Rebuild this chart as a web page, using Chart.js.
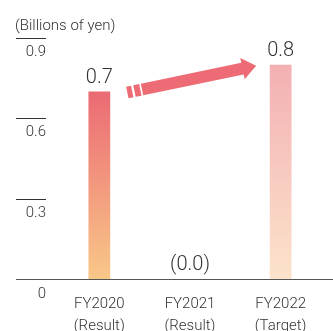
<!DOCTYPE html>
<html>
<head>
<meta charset="utf-8">
<script src="https://cdn.jsdelivr.net/npm/chart.js@4"></script>
<style>
  body { margin: 0; background: #fff; }
</style>
</head>
<body>
<canvas id="grafico" width="333" height="331"></canvas>
<script>
const anos = ['FY2020', 'FY2021', 'FY2022'];
const tipos = ['(Result)', '(Result)', '(Target)'];
const valores = [0.7, 0.0, 0.8];
const rotulos = ['0.7', '(0.0)', '0.8'];
const ticksY = [0, 0.3, 0.6, 0.9];
const unidade = '(Billions of yen)';

const fonte = 'Roboto, "Liberation Sans", sans-serif';
const corTexto = '#333';
const corSeta = '#EC6B74';
const gradientes = [['#EB6A74', '#F9C888'], ['#EB6A74', '#F9C888'], ['#F3B0B3', '#FCE3CB']];

function corBarra(context) {
  const chart = context.chart;
  if (!chart.chartArea || context.type !== 'data') return gradientes[0][0];
  const y = chart.scales.y;
  const topo = y.getPixelForValue(context.parsed.y);
  const base = y.getPixelForValue(0);
  if (base - topo < 1) return gradientes[context.dataIndex][1];
  const g = chart.ctx.createLinearGradient(0, topo, 0, base);
  const [c1, c2] = gradientes[context.dataIndex];
  g.addColorStop(0, c1);
  g.addColorStop(1, c2);
  return g;
}

// titulo, eixos, rotulos e seta
const desenhos = {
  id: 'desenhos',
  afterDatasetsDraw(chart) {
    const { ctx, chartArea, scales: { x, y } } = chart;
    ctx.save();
    ctx.fillStyle = corTexto;
    ctx.font = '300 15px ' + fonte;
    ctx.textAlign = 'left';
    ctx.textBaseline = 'middle';
    ctx.fillText(unidade, 15, chartArea.top - 12);

    ctx.strokeStyle = '#333';
    ctx.lineWidth = 1;
    ctx.font = '300 15px ' + fonte;
    ctx.textAlign = 'right';
    ticksY.forEach(v => {
      const py = Math.round(y.getPixelForValue(v)) + 0.5;
      if (v > 0) {
        ctx.beginPath();
        ctx.moveTo(16, py);
        ctx.lineTo(46, py);
        ctx.stroke();
      }
      ctx.fillText(v === 0 ? '0' : v.toFixed(1), 46, py + (v === 0 ? 15 : 14));
    });

    const base = Math.round(y.getPixelForValue(0)) + 0.5;
    ctx.strokeStyle = '#555';
    ctx.beginPath();
    ctx.moveTo(16, base);
    ctx.lineTo(chart.width, base);
    ctx.stroke();

    ctx.textAlign = 'center';
    anos.forEach((a, i) => {
      const px = x.getPixelForValue(i);
      ctx.fillText(a, px, chartArea.bottom + 25);
      ctx.fillText(tipos[i], px, chartArea.bottom + 47);
    });

    ctx.font = '300 20px ' + fonte;
    const barras = chart.getDatasetMeta(0).data;
    barras.forEach((bar, i) => ctx.fillText(rotulos[i], bar.x, bar.y - 14));

    // seta do FY2020 ao FY2022
    const ini = { x: barras[0].x + 28, y: barras[0].y + 1 };
    const fim = { x: barras[2].x - 24.5, y: barras[2].y + 1 };
    const dx = fim.x - ini.x, dy = fim.y - ini.y;
    const L = Math.hypot(dx, dy);
    const u = { x: dx / L, y: dy / L };
    const n = { x: -u.y, y: u.x };
    const P = (s, t) => [ini.x + u.x * s + n.x * t, ini.y + u.y * s + n.y * t];
    const poly = pts => {
      ctx.beginPath();
      pts.forEach((p, k) => k ? ctx.lineTo(p[0], p[1]) : ctx.moveTo(p[0], p[1]));
      ctx.closePath();
      ctx.fill();
    };
    const h = 5.9;
    ctx.fillStyle = corSeta;
    poly([P(0, -h), P(5, -h), P(5, h), P(0, h)]);
    poly([P(7.3, -h), P(13.3, -h), P(13.3, h), P(7.3, h)]);
    poly([P(15, -h), P(L - 14, -h), P(L - 14, -10.8), P(L, 0), P(L - 14, 10.8), P(L - 14, h), P(15, h)]);
    ctx.restore();
  }
};

new Chart(document.getElementById('grafico').getContext('2d'), {
  type: 'bar',
  data: {
    labels: anos,
    datasets: [{
      data: valores,
      backgroundColor: corBarra,
      barPercentage: 0.24,
      categoryPercentage: 1,
      borderWidth: 0
    }]
  },
  options: {
    responsive: false,
    animation: false,
    layout: { padding: { left: 54, right: 7, top: 38, bottom: 52 } },
    scales: {
      x: { display: false, offset: true },
      y: { display: false, min: 0, max: 0.9 }
    },
    plugins: {
      legend: { display: false },
      tooltip: { enabled: false }
    }
  },
  plugins: [desenhos]
});
</script>
</body>
</html>
